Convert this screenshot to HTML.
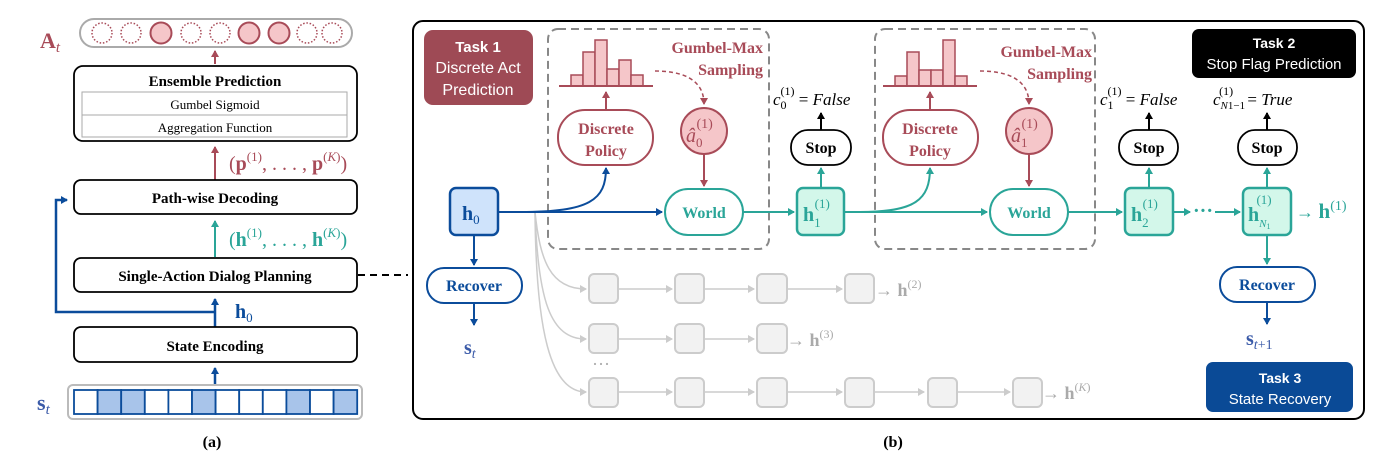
<!DOCTYPE html>
<html><head><meta charset="utf-8"><style>
html,body{margin:0;padding:0;background:#fff;}
svg{display:block;}
.sf{font-family:"Liberation Serif",serif;}
.ss{font-family:"Liberation Sans",sans-serif;}
</style></head><body>
<svg width="1392" height="472" viewBox="0 0 1392 472" xmlns="http://www.w3.org/2000/svg">
<defs>
<marker id="ar" markerWidth="8" markerHeight="8" refX="6" refY="4" orient="auto" markerUnits="userSpaceOnUse"><path d="M0,0 L7,4 L0,8 z" fill="#a84b58"/></marker>
<marker id="at" markerWidth="8" markerHeight="8" refX="6" refY="4" orient="auto" markerUnits="userSpaceOnUse"><path d="M0,0 L7,4 L0,8 z" fill="#2aa598"/></marker>
<marker id="ab" markerWidth="8" markerHeight="8" refX="6" refY="4" orient="auto" markerUnits="userSpaceOnUse"><path d="M0,0 L7,4 L0,8 z" fill="#0b4c9b"/></marker>
<marker id="ak" markerWidth="8" markerHeight="8" refX="6" refY="4" orient="auto" markerUnits="userSpaceOnUse"><path d="M0,0 L7,4 L0,8 z" fill="#000"/></marker>
<marker id="ag" markerWidth="8" markerHeight="8" refX="6" refY="4" orient="auto" markerUnits="userSpaceOnUse"><path d="M0,0 L7,4 L0,8 z" fill="#ccc"/></marker>
</defs>

<!-- ===== Panel (a) ===== -->
<text x="40" y="48" class="sf" font-size="22" font-weight="bold" fill="#a84b58">A<tspan font-style="italic" font-weight="normal" font-size="15" dy="4">t</tspan></text>
<rect x="80" y="19" width="272" height="28" rx="14" fill="#fff" stroke="#aaa" stroke-width="2"/>
<g stroke="#a84b58" stroke-width="1.5">
<circle cx="102" cy="33" r="10" fill="none" stroke-dasharray="1.5 1.8"/>
<circle cx="131" cy="33" r="10" fill="none" stroke-dasharray="1.5 1.8"/>
<circle cx="161" cy="33" r="10.5" fill="#f5c6c9" stroke-width="2"/>
<circle cx="191" cy="33" r="10" fill="none" stroke-dasharray="1.5 1.8"/>
<circle cx="220" cy="33" r="10" fill="none" stroke-dasharray="1.5 1.8"/>
<circle cx="249" cy="33" r="10.5" fill="#f5c6c9" stroke-width="2"/>
<circle cx="279" cy="33" r="10.5" fill="#f5c6c9" stroke-width="2"/>
<circle cx="307" cy="33" r="10" fill="none" stroke-dasharray="1.5 1.8"/>
<circle cx="332" cy="33" r="10" fill="none" stroke-dasharray="1.5 1.8"/>
</g>
<line x1="215" y1="64" x2="215" y2="51" stroke="#a84b58" stroke-width="2" marker-end="url(#ar)"/>
<rect x="74" y="66" width="283" height="75" rx="9" fill="#fff" stroke="#000" stroke-width="1.8"/>
<text x="215" y="86" text-anchor="middle" class="sf" font-size="15" font-weight="bold">Ensemble Prediction</text>
<rect x="82" y="92" width="265" height="45" fill="#fff" stroke="#aaa" stroke-width="1"/>
<line x1="82" y1="115" x2="347" y2="115" stroke="#aaa"/>
<text x="215" y="109" text-anchor="middle" class="sf" font-size="13">Gumbel Sigmoid</text>
<text x="215" y="132" text-anchor="middle" class="sf" font-size="13">Aggregation Function</text>
<line x1="215" y1="180" x2="215" y2="147" stroke="#a84b58" stroke-width="2" marker-end="url(#ar)"/>
<text x="229" y="170" class="sf" font-size="20" fill="#a84b58">(<tspan font-weight="bold">p</tspan><tspan font-size="13" dy="-9">(1)</tspan><tspan dy="9">, . . . , </tspan><tspan font-weight="bold">p</tspan><tspan font-size="13" dy="-9">(<tspan font-style="italic">K</tspan>)</tspan><tspan dy="9">)</tspan></text>
<rect x="74" y="180" width="283" height="34" rx="7" fill="#fff" stroke="#000" stroke-width="1.8"/>
<text x="215" y="203" text-anchor="middle" class="sf" font-size="15" font-weight="bold">Path-wise Decoding</text>
<line x1="215" y1="257" x2="215" y2="221" stroke="#2aa598" stroke-width="2" marker-end="url(#at)"/>
<text x="229" y="246" class="sf" font-size="20" fill="#2aa598">(<tspan font-weight="bold">h</tspan><tspan font-size="13" dy="-9">(1)</tspan><tspan dy="9">, . . . , </tspan><tspan font-weight="bold">h</tspan><tspan font-size="13" dy="-9">(<tspan font-style="italic">K</tspan>)</tspan><tspan dy="9">)</tspan></text>
<rect x="74" y="258" width="283" height="34" rx="7" fill="#fff" stroke="#000" stroke-width="1.8"/>
<text x="215" y="281" text-anchor="middle" class="sf" font-size="15" font-weight="bold">Single-Action Dialog Planning</text>
<line x1="358" y1="275" x2="408" y2="275" stroke="#000" stroke-width="2" stroke-dasharray="7 5"/>
<line x1="215" y1="327" x2="215" y2="299" stroke="#0b4c9b" stroke-width="2.5" marker-end="url(#ab)"/>
<polyline points="215,312 56,312 56,200 67,200" fill="none" stroke="#0b4c9b" stroke-width="2.5" marker-end="url(#ab)"/>
<text x="235" y="318" class="sf" font-size="20" font-weight="bold" fill="#0b4c9b">h<tspan font-weight="normal" font-size="13" dy="4">0</tspan></text>
<rect x="74" y="327" width="283" height="35" rx="7" fill="#fff" stroke="#000" stroke-width="1.8"/>
<text x="215" y="351" text-anchor="middle" class="sf" font-size="15" font-weight="bold">State Encoding</text>
<line x1="215" y1="385" x2="215" y2="368" stroke="#0b4c9b" stroke-width="2.5" marker-end="url(#ab)"/>
<rect x="68" y="385" width="294" height="34" rx="5" fill="#fff" stroke="#bbb" stroke-width="2"/>
<g stroke="#0b4c9b" stroke-width="1.8">
<rect x="74" y="390" width="23.6" height="24" fill="#fff"/>
<rect x="97.6" y="390" width="23.6" height="24" fill="#a8c4ea"/>
<rect x="121.2" y="390" width="23.6" height="24" fill="#a8c4ea"/>
<rect x="144.8" y="390" width="23.6" height="24" fill="#fff"/>
<rect x="168.4" y="390" width="23.6" height="24" fill="#fff"/>
<rect x="192" y="390" width="23.6" height="24" fill="#a8c4ea"/>
<rect x="215.6" y="390" width="23.6" height="24" fill="#fff"/>
<rect x="239.2" y="390" width="23.6" height="24" fill="#fff"/>
<rect x="262.8" y="390" width="23.6" height="24" fill="#fff"/>
<rect x="286.4" y="390" width="23.6" height="24" fill="#a8c4ea"/>
<rect x="310" y="390" width="23.6" height="24" fill="#fff"/>
<rect x="333.6" y="390" width="23.6" height="24" fill="#a8c4ea"/>
</g>
<text x="37" y="410" class="sf" font-size="22" font-weight="bold" fill="#3a5aa8">s<tspan font-style="italic" font-weight="normal" font-size="15" dy="4">t</tspan></text>
<text x="212" y="447" text-anchor="middle" class="sf" font-size="16" font-weight="bold">(a)</text>

<!-- ===== Panel (b) ===== -->
<rect x="413" y="21" width="951" height="398" rx="10" fill="#fff" stroke="#000" stroke-width="2"/>
<rect x="424" y="30" width="109" height="75" rx="9" fill="#9e4a55"/>
<text x="478" y="52" text-anchor="middle" class="ss" font-size="15" font-weight="bold" fill="#fff">Task 1</text>
<text x="478" y="73" text-anchor="middle" class="ss" font-size="16" fill="#fff">Discrete Act</text>
<text x="478" y="95" text-anchor="middle" class="ss" font-size="16" fill="#fff">Prediction</text>

<rect x="1192" y="29" width="164" height="49" rx="7" fill="#000"/>
<text x="1274" y="48" text-anchor="middle" class="ss" font-size="14" font-weight="bold" fill="#fff">Task 2</text>
<text x="1274" y="69" text-anchor="middle" class="ss" font-size="15" fill="#fff">Stop Flag Prediction</text>

<rect x="1206" y="362" width="147" height="50" rx="7" fill="#0a4a96"/>
<text x="1280" y="383" text-anchor="middle" class="ss" font-size="14" font-weight="bold" fill="#fff">Task 3</text>
<text x="1280" y="404" text-anchor="middle" class="ss" font-size="15" fill="#fff">State Recovery</text>

<!-- dashed boxes -->
<rect x="548" y="29" width="221" height="220" rx="10" fill="none" stroke="#888" stroke-width="2" stroke-dasharray="8 5"/>
<rect x="875" y="29" width="220" height="220" rx="10" fill="none" stroke="#888" stroke-width="2" stroke-dasharray="8 5"/>

<!-- gray paths -->
<g stroke="#ccc" stroke-width="1.5" fill="none">
<path d="M535,212 C540,260 550,289 586,289" marker-end="url(#ag)"/>
<path d="M535,212 C538,300 550,339 586,339" marker-end="url(#ag)"/>
<path d="M535,212 C536,330 550,392 586,392" marker-end="url(#ag)"/>
<line x1="618" y1="289" x2="672" y2="289" marker-end="url(#ag)"/>
<line x1="704" y1="289" x2="754" y2="289" marker-end="url(#ag)"/>
<line x1="787" y1="289" x2="842" y2="289" marker-end="url(#ag)"/>
<line x1="618" y1="339" x2="672" y2="339" marker-end="url(#ag)"/>
<line x1="704" y1="339" x2="754" y2="339" marker-end="url(#ag)"/>
<line x1="618" y1="392" x2="672" y2="392" marker-end="url(#ag)"/>
<line x1="704" y1="392" x2="754" y2="392" marker-end="url(#ag)"/>
<line x1="787" y1="392" x2="842" y2="392" marker-end="url(#ag)"/>
<line x1="874" y1="392" x2="924" y2="392" marker-end="url(#ag)"/>
<line x1="957" y1="392" x2="1010" y2="392" marker-end="url(#ag)"/>
</g>
<g fill="#f2f2f2" stroke="#ccc" stroke-width="2">
<rect x="589" y="274" width="29" height="29" rx="5"/><rect x="675" y="274" width="29" height="29" rx="5"/><rect x="757" y="274" width="30" height="29" rx="5"/><rect x="845" y="274" width="29" height="29" rx="5"/>
<rect x="589" y="324" width="29" height="29" rx="5"/><rect x="675" y="324" width="29" height="29" rx="5"/><rect x="757" y="324" width="30" height="29" rx="5"/>
<rect x="589" y="378" width="29" height="29" rx="5"/><rect x="675" y="378" width="29" height="29" rx="5"/><rect x="757" y="378" width="30" height="29" rx="5"/><rect x="845" y="378" width="29" height="29" rx="5"/><rect x="928" y="378" width="29" height="29" rx="5"/><rect x="1013" y="378" width="29" height="29" rx="5"/>
</g>
<text x="875" y="296" class="sf" font-size="18" fill="#aaa">→ <tspan font-weight="bold">h</tspan><tspan font-size="12" dy="-8">(2)</tspan></text>
<text x="787" y="346" class="sf" font-size="18" fill="#aaa">→ <tspan font-weight="bold">h</tspan><tspan font-size="12" dy="-8">(3)</tspan></text>
<text x="1042" y="399" class="sf" font-size="18" fill="#aaa">→ <tspan font-weight="bold">h</tspan><tspan font-size="12" dy="-8">(<tspan font-style="italic">K</tspan>)</tspan></text>
<text x="592" y="370" class="sf" font-size="18" fill="#aaa">···</text>

<!-- histograms -->
<g fill="#f5c6c9" stroke="#a84b58" stroke-width="1.5">
<rect x="571" y="75" width="12" height="11"/><rect x="583" y="52" width="12" height="34"/><rect x="595" y="40" width="12" height="46"/><rect x="607" y="69" width="12" height="17"/><rect x="619" y="60" width="12" height="26"/><rect x="631" y="75" width="12" height="11"/>
<rect x="895" y="76" width="12" height="10"/><rect x="907" y="52" width="12" height="34"/><rect x="919" y="70" width="12" height="16"/><rect x="931" y="70" width="12" height="16"/><rect x="943" y="40" width="12" height="46"/><rect x="955" y="76" width="12" height="10"/>
</g>
<line x1="559" y1="86" x2="653" y2="86" stroke="#a84b58" stroke-width="2"/>
<line x1="883" y1="86" x2="977" y2="86" stroke="#a84b58" stroke-width="2"/>
<text x="763" y="53" text-anchor="end" class="sf" font-size="16" font-weight="bold" fill="#a84b58">Gumbel-Max</text>
<text x="763" y="75" text-anchor="end" class="sf" font-size="16" font-weight="bold" fill="#a84b58">Sampling</text>
<text x="1092" y="57" text-anchor="end" class="sf" font-size="16" font-weight="bold" fill="#a84b58">Gumbel-Max</text>
<text x="1092" y="79" text-anchor="end" class="sf" font-size="16" font-weight="bold" fill="#a84b58">Sampling</text>
<path d="M655,71 C680,71 704,78 704,104" fill="none" stroke="#a84b58" stroke-width="1.5" stroke-dasharray="4 3" marker-end="url(#ar)"/>
<path d="M980,71 C1005,71 1029,78 1029,104" fill="none" stroke="#a84b58" stroke-width="1.5" stroke-dasharray="4 3" marker-end="url(#ar)"/>

<!-- policies -->
<line x1="606" y1="110" x2="606" y2="92" stroke="#a84b58" stroke-width="2" marker-end="url(#ar)"/>
<line x1="930" y1="110" x2="930" y2="92" stroke="#a84b58" stroke-width="2" marker-end="url(#ar)"/>
<rect x="558" y="110" width="95" height="55" rx="27" fill="#fff" stroke="#a84b58" stroke-width="2"/>
<rect x="883" y="110" width="95" height="55" rx="27" fill="#fff" stroke="#a84b58" stroke-width="2"/>
<g class="sf" font-size="16" font-weight="bold" fill="#a84b58" text-anchor="middle">
<text x="606" y="134">Discrete</text><text x="606" y="156">Policy</text>
<text x="930" y="134">Discrete</text><text x="930" y="156">Policy</text>
</g>
<circle cx="704" cy="131" r="23" fill="#f5c6c9" stroke="#a84b58" stroke-width="2"/>
<circle cx="1029" cy="131" r="23" fill="#f5c6c9" stroke="#a84b58" stroke-width="2"/>
<text x="686" y="142" class="sf" font-size="20" font-style="italic" fill="#a84b58">â<tspan font-style="normal" font-size="13" dy="5">0</tspan><tspan font-style="normal" font-size="14" dx="-6" dy="-19">(1)</tspan></text>
<text x="1011" y="142" class="sf" font-size="20" font-style="italic" fill="#a84b58">â<tspan font-style="normal" font-size="13" dy="5">1</tspan><tspan font-style="normal" font-size="14" dx="-6" dy="-19">(1)</tspan></text>
<line x1="704" y1="154" x2="704" y2="186" stroke="#a84b58" stroke-width="2" marker-end="url(#ar)"/>
<line x1="1029" y1="154" x2="1029" y2="186" stroke="#a84b58" stroke-width="2" marker-end="url(#ar)"/>

<!-- main flow -->
<line x1="498" y1="212" x2="662" y2="212" stroke="#0b4c9b" stroke-width="2" marker-end="url(#ab)"/>
<path d="M520,212 C590,212 606,200 606,168" fill="none" stroke="#0b4c9b" stroke-width="2" marker-end="url(#ab)"/>
<line x1="743" y1="212" x2="794" y2="212" stroke="#2aa598" stroke-width="2" marker-end="url(#at)"/>
<line x1="844" y1="212" x2="987" y2="212" stroke="#2aa598" stroke-width="2" marker-end="url(#at)"/>
<path d="M860,212 C915,212 930,200 930,168" fill="none" stroke="#2aa598" stroke-width="2" marker-end="url(#at)"/>
<line x1="1068" y1="212" x2="1122" y2="212" stroke="#2aa598" stroke-width="2" marker-end="url(#at)"/>
<line x1="1173" y1="212" x2="1190" y2="212" stroke="#2aa598" stroke-width="2" marker-end="url(#at)"/>
<text x="1193" y="217" class="sf" font-size="20" font-weight="bold" fill="#2aa598">···</text>
<line x1="1215" y1="212" x2="1240" y2="212" stroke="#2aa598" stroke-width="2" marker-end="url(#at)"/>

<rect x="665" y="189" width="78" height="46" rx="23" fill="#fff" stroke="#2aa598" stroke-width="2"/>
<rect x="990" y="189" width="78" height="46" rx="23" fill="#fff" stroke="#2aa598" stroke-width="2"/>
<text x="704" y="218" text-anchor="middle" class="sf" font-size="16" font-weight="bold" fill="#2aa598">World</text>
<text x="1029" y="218" text-anchor="middle" class="sf" font-size="16" font-weight="bold" fill="#2aa598">World</text>

<rect x="450" y="188" width="48" height="47" rx="6" fill="#cfe3fb" stroke="#0b4c9b" stroke-width="2.5"/>
<text x="462" y="220" class="sf" font-size="20" font-weight="bold" fill="#0b4c9b">h<tspan font-weight="normal" font-size="13" dy="4">0</tspan></text>

<g fill="#d3f7ea" stroke="#2aa598" stroke-width="2.5">
<rect x="797" y="188" width="47" height="47" rx="6"/>
<rect x="1125" y="188" width="48" height="47" rx="6"/>
<rect x="1243" y="188" width="48" height="47" rx="6"/>
</g>
<g class="sf" fill="#2aa598">
<text x="803" y="221" font-size="20" font-weight="bold">h<tspan font-weight="normal" font-size="13" dy="6">1</tspan><tspan font-weight="normal" font-size="13" dx="-6" dy="-19">(1)</tspan></text>
<text x="1131" y="221" font-size="20" font-weight="bold">h<tspan font-weight="normal" font-size="13" dy="6">2</tspan><tspan font-weight="normal" font-size="13" dx="-6" dy="-19">(1)</tspan></text>
<text x="1248" y="221" font-size="20" font-weight="bold">h<tspan font-weight="normal" font-style="italic" font-size="11" dy="6">N</tspan><tspan font-weight="normal" font-size="8" dy="2">1</tspan><tspan font-weight="normal" font-size="13" dx="-14" dy="-25">(1)</tspan></text>
<text x="1296" y="218" font-size="18">→ <tspan font-weight="bold" font-size="21">h</tspan><tspan font-size="14" dy="-8">(1)</tspan></text>
</g>

<!-- stops -->
<g stroke="#2aa598" stroke-width="2">
<line x1="821" y1="188" x2="821" y2="168" marker-end="url(#at)"/>
<line x1="1149" y1="188" x2="1149" y2="168" marker-end="url(#at)"/>
<line x1="1267" y1="188" x2="1267" y2="168" marker-end="url(#at)"/>
</g>
<g fill="#fff" stroke="#000" stroke-width="1.8">
<rect x="791" y="130" width="60" height="35" rx="17"/>
<rect x="1119" y="130" width="59" height="35" rx="17"/>
<rect x="1238" y="130" width="59" height="35" rx="17"/>
</g>
<g class="sf" font-size="16" font-weight="bold" text-anchor="middle">
<text x="821" y="153">Stop</text><text x="1149" y="153">Stop</text><text x="1267" y="153">Stop</text>
</g>
<g stroke="#000" stroke-width="2">
<line x1="821" y1="130" x2="821" y2="113" marker-end="url(#ak)"/>
<line x1="1149" y1="130" x2="1149" y2="113" marker-end="url(#ak)"/>
<line x1="1267" y1="130" x2="1267" y2="113" marker-end="url(#ak)"/>
</g>
<g class="sf" font-size="17">
<text x="773" y="105"><tspan font-style="italic">c</tspan><tspan font-size="12" dy="4">0</tspan><tspan font-size="12" dx="-6" dy="-14">(1)</tspan><tspan dy="10"> = </tspan><tspan font-style="italic">False</tspan></text>
<text x="1100" y="105"><tspan font-style="italic">c</tspan><tspan font-size="12" dy="4">1</tspan><tspan font-size="12" dx="-6" dy="-14">(1)</tspan><tspan dy="10"> = </tspan><tspan font-style="italic">False</tspan></text>
<text x="1213" y="105"><tspan font-style="italic">c</tspan><tspan font-size="11" font-style="italic" dy="4">N</tspan><tspan font-size="11" dy="0">1−1</tspan><tspan font-size="12" dx="-26" dy="-14">(1)</tspan><tspan dx="10" dy="10"> = </tspan><tspan font-style="italic">True</tspan></text>
</g>

<!-- recover -->
<line x1="474" y1="235" x2="474" y2="265" stroke="#0b4c9b" stroke-width="2" marker-end="url(#ab)"/>
<rect x="427" y="268" width="95" height="35" rx="17" fill="#fff" stroke="#0b4c9b" stroke-width="2"/>
<text x="474" y="291" text-anchor="middle" class="sf" font-size="16" font-weight="bold" fill="#0b4c9b">Recover</text>
<line x1="474" y1="303" x2="474" y2="325" stroke="#0b4c9b" stroke-width="2" marker-end="url(#ab)"/>
<text x="464" y="354" class="sf" font-size="20" font-weight="bold" fill="#3a5aa8">s<tspan font-style="italic" font-weight="normal" font-size="14" dy="4">t</tspan></text>

<line x1="1267" y1="235" x2="1267" y2="264" stroke="#2aa598" stroke-width="2" marker-end="url(#at)"/>
<rect x="1220" y="267" width="95" height="35" rx="17" fill="#fff" stroke="#0b4c9b" stroke-width="2"/>
<text x="1267" y="290" text-anchor="middle" class="sf" font-size="16" font-weight="bold" fill="#0b4c9b">Recover</text>
<line x1="1267" y1="302" x2="1267" y2="324" stroke="#0b4c9b" stroke-width="2" marker-end="url(#ab)"/>
<text x="1246" y="345" class="sf" font-size="20" font-weight="bold" fill="#3a5aa8">s<tspan font-style="italic" font-weight="normal" font-size="14" dy="4">t</tspan><tspan font-weight="normal" font-size="14">+1</tspan></text>

<text x="893" y="447" text-anchor="middle" class="sf" font-size="16" font-weight="bold">(b)</text>
</svg>
</body></html>
